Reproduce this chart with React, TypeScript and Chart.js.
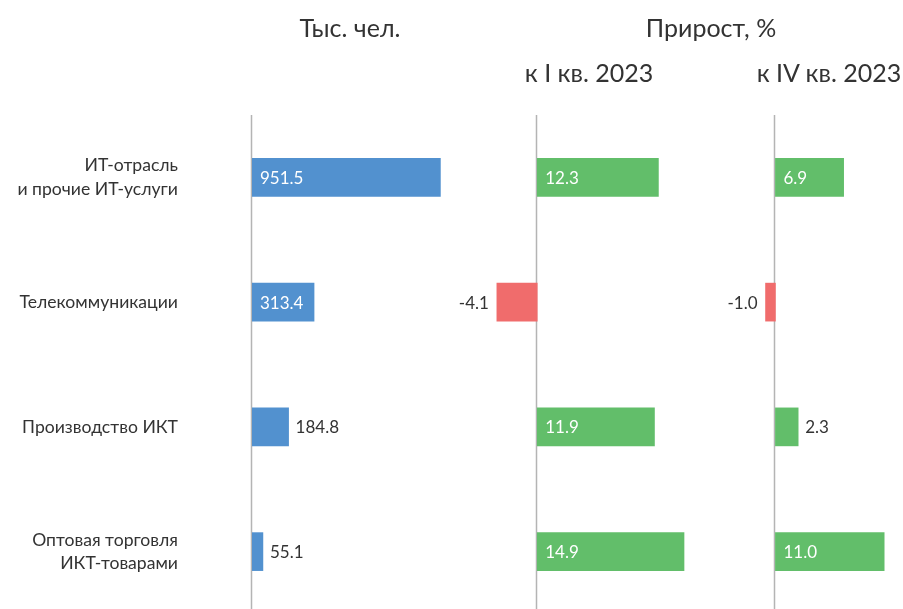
import React, { useEffect, useRef } from "react";
import { Chart, registerables } from "chart.js";
Chart.register(...registerables);

const categories: (string | string[])[] = [
  ["ИТ-отрасль", "и прочие ИТ-услуги"],
  "Телекоммуникации",
  "Производство ИКТ",
  ["Оптовая торговля", "ИКТ-товарами"],
];
const employees = [951.5, 313.4, 184.8, 55.1];
const growthQ1 = [12.3, -4.1, 11.9, 14.9];
const growthQ4 = [6.9, -1.0, 2.3, 11.0];

const BLUE = "#5291CF";
const GREEN = "#62BE6A";
const RED = "#F06C6C";
const TEXT = "#333333";
const FONT = "Lato";

const zeroLinePlugin = {
  id: "zeroLine",
  beforeDatasetsDraw(chart: any) {
    const x = chart.scales.x.getPixelForValue(0);
    const ctx = chart.ctx;
    ctx.save();
    ctx.strokeStyle = "#b4b4b4";
    ctx.lineWidth = 1.5;
    ctx.beginPath();
    ctx.moveTo(Math.round(x) - 0.5, chart.chartArea.top);
    ctx.lineTo(Math.round(x) - 0.5, chart.height);
    ctx.stroke();
    ctx.restore();
  },
};

const valueLabelPlugin = {
  id: "valueLabels",
  afterDatasetsDraw(chart: any) {
    const ctx = chart.ctx;
    const meta = chart.getDatasetMeta(0);
    const data = chart.data.datasets[0].data as number[];
    ctx.save();
    ctx.font = `17px ${FONT}`;
    ctx.textBaseline = "middle";
    meta.data.forEach((bar: any, i: number) => {
      const v = data[i];
      const txt = v.toFixed(1);
      const w = ctx.measureText(txt).width;
      const { x, base, y } = bar.getProps(["x", "base", "y"], true);
      const len = Math.abs(x - base);
      const inside = len > w + 16;
      if (v >= 0) {
        ctx.textAlign = "left";
        if (inside) {
          ctx.fillStyle = "#ffffff";
          ctx.fillText(txt, base + 8, y + 1);
        } else {
          ctx.fillStyle = TEXT;
          ctx.fillText(txt, x + 7, y + 1);
        }
      } else {
        ctx.textAlign = "right";
        if (inside) {
          ctx.fillStyle = "#ffffff";
          ctx.fillText(txt, base - 8, y + 1);
        } else {
          ctx.fillStyle = TEXT;
          ctx.fillText(txt, x - 8, y + 1);
        }
      }
    });
    ctx.restore();
  },
};

type PanelProps = {
  values: number[];
  min: number;
  max: number;
  padLeft: number;
  padRight: number;
  showCats: boolean;
  colorFor: (v: number) => string;
};

function Panel({ values, min, max, padLeft, padRight, showCats, colorFor }: PanelProps) {
  const ref = useRef<HTMLCanvasElement | null>(null);
  useEffect(() => {
    if (!ref.current) return;
    const yScale: any = {
      display: showCats,
      offset: true,
      grid: { display: false, drawTicks: false },
      border: { display: false },
      ticks: {
        padding: 74,
        color: TEXT,
        font: { family: FONT, size: 17.6, lineHeight: 1.32 },
        crossAlign: "near",
      },
    };
    if (showCats) {
      yScale.afterFit = (scale: any) => {
        scale.width = 252;
        scale.paddingTop = 0;
        scale.paddingBottom = 0;
      };
    }
    const chart = new Chart(ref.current, {
      type: "bar",
      data: {
        labels: categories as any,
        datasets: [
          {
            data: values,
            backgroundColor: values.map(colorFor),
            barThickness: 38,
            borderWidth: 0,
          },
        ],
      },
      options: {
        indexAxis: "y",
        animation: false,
        responsive: true,
        maintainAspectRatio: false,
        layout: { padding: { left: padLeft, right: padRight, top: 115, bottom: 0 } },
        plugins: { legend: { display: false }, tooltip: { enabled: false }, title: { display: false } },
        scales: {
          x: { display: false, min, max },
          y: yScale,
        },
      } as any,
      plugins: [zeroLinePlugin, valueLabelPlugin],
    });
    return () => chart.destroy();
  }, []);
  return (
    <div style={{ position: "absolute", left: 0, top: 0, width: 903, height: 614 }}>
      <canvas ref={ref} />
    </div>
  );
}

const headStyle = (cx: number, cy: number): React.CSSProperties => ({
  position: "absolute",
  left: cx - 120,
  top: cy - 16,
  width: 240,
  height: 32,
  lineHeight: "32px",
  textAlign: "center",
  fontFamily: FONT,
  fontSize: 25,
  color: TEXT,
  whiteSpace: "nowrap",
});

export default function App() {
  const growthColor = (v: number) => (v < 0 ? RED : GREEN);
  return (
    <div
      style={{
        position: "absolute",
        left: 0,
        top: 0,
        width: 903,
        height: 609,
        overflow: "hidden",
        background: "#ffffff",
      }}
    >
      <Panel values={employees} min={0} max={1000} padLeft={0} padRight={453} showCats={true} colorFor={() => BLUE} />
      <Panel values={growthQ1} min={-5} max={15} padLeft={488} padRight={218} showCats={false} colorFor={growthColor} />
      <Panel values={growthQ4} min={-5} max={12.5} padLeft={726} padRight={4} showCats={false} colorFor={growthColor} />
      <div style={headStyle(350, 27)}>Тыс. чел.</div>
      <div style={headStyle(711, 27)}>Прирост, %</div>
      <div style={headStyle(589, 72)}>к I кв. 2023</div>
      <div style={headStyle(829, 72)}>к IV кв. 2023</div>
    </div>
  );
}
